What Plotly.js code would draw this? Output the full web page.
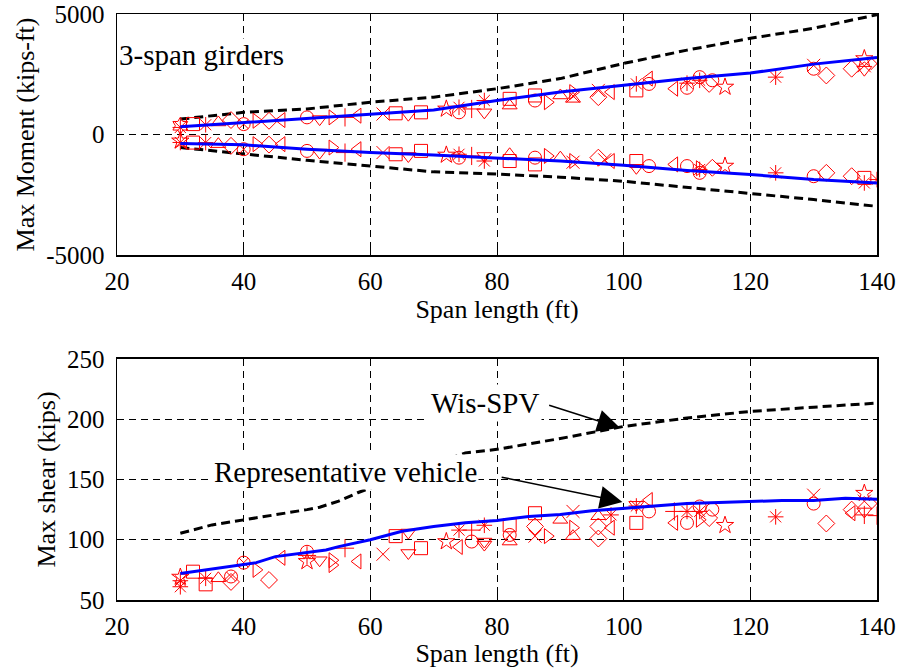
<!DOCTYPE html>
<html>
<head>
<meta charset="utf-8">
<script src="https://cdn.plot.ly/plotly-3.0.1.min.js"></script>
<style>html,body{margin:0;padding:0;background:#fff;}#chart{width:899px;height:669px;}</style>
</head>
<body>
<div id="chart"></div>
<script>
// ---------- Envelope curves ----------
const spanCurve = [30, 40, 50, 60, 70, 80, 90, 100, 110, 120, 130, 140];
const wisPosMoment = [640, 920, 1060, 1340, 1550, 1900, 2320, 2950, 3500, 3990, 4410, 4970];
const wisNegMoment = [-540, -820, -1070, -1310, -1550, -1640, -1770, -1940, -2190, -2470, -2700, -2980];
const repPosMoment = [320, 500, 670, 850, 1020, 1410, 1760, 2040, 2320, 2550, 2920, 3200];
const repNegMoment = [-375, -430, -610, -750, -850, -960, -1100, -1280, -1490, -1660, -1870, -2010];

const spanShearWis = [30, 35, 40, 45, 50, 52, 55, 58, 62, 66, 70, 75, 80, 90, 100, 110, 120, 130, 140];
const wisShear = [105.4, 112.3, 116.5, 120.6, 125, 127, 132, 139, 147, 155, 163, 172, 175, 184, 194, 201, 206.5, 210, 213.4];
const spanShearRep = [30, 35, 40, 42, 45, 50, 53, 55, 60, 65, 70, 75, 80, 85, 90, 95, 100, 105, 110, 115, 120, 125, 130, 135, 140];
const repShear = [72, 75.5, 79.6, 81, 86, 89.3, 91.5, 94.3, 100, 107, 111, 114, 116, 119.3, 121, 124, 126, 128.4, 130, 131, 132, 132.5, 132.5, 134.5, 133.7];

// Tick labels
const momentTicks = [-5000, 0, 5000];
const momentTickText = ['-5000', '0', '5000'];

// ---------- Individual truck results (vehicle type per point) ----------
const posSpan = [30, 30, 32, 34, 36, 38, 40, 42, 44, 46, 50, 52, 54, 56, 58, 62, 64, 66, 68, 72, 74, 74, 76, 78, 78,
  82, 82, 86, 86, 88, 90, 92, 92, 92, 96, 96, 98, 102, 102, 104, 104, 108, 110, 110, 112, 112, 114, 113.5, 116,
  124, 130, 130, 132, 136, 138, 138, 138, 140];
const posMoment = [363, 293, 432, 404, 500, 600, 432, 570, 570, 600, 711, 640, 711, 711, 781, 850, 880, 823, 920, 1060, 1130, 920, 1060, 920, 1410,
  1480, 1200, 1620, 1410, 1340, 1620, 1760, 1480, 1600, 1550, 1830, 1760, 2100, 1830, 2320, 2100, 1900, 1940, 2130, 2380, 2250, 2250, 2100, 1970,
  2380, 2730, 2870, 2450, 2730, 3150, 2690, 2850, 2940];
const posVeh = ['P','Q','A','K','D','C','L','F','B','G','H','E','F','I','G','J','A','E','A','M','K','H','I','E','K',
  'A','D','A','H','F','D','F','D','J','C','J','G','K','A','G','H','G','H','K','H','K','H','C','M',
  'K','H','J','C','C','M','E','J','J'];

const negSpan = [30, 30, 32, 34, 36, 38, 40, 42, 44, 46, 50, 52, 54, 56, 58, 62, 64, 66, 68, 72, 74, 74, 76, 78, 78,
  82, 82, 86, 86, 88, 90, 92, 92, 96, 98, 97, 102, 102, 104, 108, 110, 112, 112, 112, 114, 116,
  124, 130, 132, 136, 138, 138, 140];
const negMoment = [-265, -330, -335, -335, -400, -470, -610, -400, -420, -400, -680, -750, -540, -750, -610, -750, -820, -890, -680, -850, -820, -960, -890, -890, -1100,
  -820, -1100, -960, -1240, -890, -960, -1100, -1150, -960, -1100, -1050, -1100, -1380, -1310, -1240, -1310, -1450, -1590, -1400, -1380, -1310,
  -1590, -1730, -1590, -1730, -1800, -2010, -1870];
const negVeh = ['M','K','A','K','D','C','L','F','B','G','H','E','F','I','G','J','A','E','A','M','K','H','I','E','K',
  'D','A','H','A','F','D','F','J','C','G','J','A','E','H','G','H','K','H','F','C','M',
  'K','H','C','C','A','K','K'];

const shearSpan = [30, 30, 30, 32, 34, 34, 36, 38, 38, 40, 42, 44, 46, 50, 50, 50, 52, 54, 54, 56, 58, 62, 64, 66, 66, 68,
  72, 74, 74, 76, 76, 78, 78, 78, 82, 82, 82, 86, 86, 86, 88, 90, 92, 92, 92, 96, 96, 96, 98, 98,
  102, 102, 102, 104, 104, 108, 108, 110, 110, 112, 112, 112, 114, 113.5, 116, 124, 130, 130, 132, 136, 136, 138, 138, 138, 138, 140, 140];
const shearVal = [66, 61, 69, 73.5, 63, 68, 68, 69.5, 65, 81, 75, 66.6, 85, 90, 82, 87, 83, 83, 79, 93, 82, 88, 103, 106, 89, 93,
  98.5, 108, 94, 108, 98.5, 112, 98.5, 96, 112, 104, 98.5, 122, 111, 103, 103, 116.5, 123.5, 110, 103, 119.5, 111, 101, 120.6, 110,
  129, 114, 128, 133, 123.5, 123.5, 114, 114, 123.5, 127.6, 123.5, 116.6, 125, 118, 112, 119, 137, 130, 113.5, 125, 122, 138.6, 123.5, 132, 120.6, 130, 120];
const shearVeh = ['K','Q','M','A','A','K','D','L','C','L','F','C','G','H','M','I','E','F','F','I','G','J','A','E','E','A',
  'M','K','G','I','H','K','E','E','A','L','D','A','C','J','F','D','J','F','D','D','C','C','K','G',
  'E','A','K','G','H','I','G','H','K','H','K','F','H','C','M','K','J','H','C','C','G','M','E','J','I','J','I'];

// ---------- Style map (vehicle type -> marker symbol) ----------
const vehSymbol = {
  A: 'square-open', B: 'diamond-open', C: 'diamond-open', D: 'triangle-up-open', E: 'triangle-down-open',
  F: 'triangle-right-open', G: 'triangle-left-open', H: 'circle-open', I: 'cross-thin-open', J: 'x-thin-open',
  K: 'asterisk-open', L: 'circle-x-open', M: 'star-open', P: 'hexagram-open', Q: 'asterisk-open'
};

function markerTraces(xs, ys, vs, xa, ya) {
  const groups = {};
  xs.forEach((x, i) => {
    const v = vs[i];
    if (!groups[v]) groups[v] = {x: [], y: []};
    groups[v].x.push(x); groups[v].y.push(ys[i]);
  });
  return Object.keys(groups).map(v => ({
    type: 'scatter', mode: 'markers', x: groups[v].x, y: groups[v].y, xaxis: xa, yaxis: ya,
    showlegend: false, hoverinfo: 'x+y',
    marker: {symbol: vehSymbol[v], size: 13, color: '#ff0000', line: {color: '#ff0000', width: 1}}
  }));
}

const dashBlack = {color: '#000', width: 3, dash: '9px,5px'};
const solidBlue = {color: '#0000ff', width: 3};

const traces = [
  {type: 'scatter', mode: 'lines', x: spanCurve, y: wisPosMoment, xaxis: 'x', yaxis: 'y', line: dashBlack, showlegend: false},
  {type: 'scatter', mode: 'lines', x: spanCurve, y: wisNegMoment, xaxis: 'x', yaxis: 'y', line: dashBlack, showlegend: false},
  ...markerTraces(posSpan, posMoment, posVeh, 'x', 'y'),
  ...markerTraces(negSpan, negMoment, negVeh, 'x', 'y'),
  {type: 'scatter', mode: 'lines', x: spanCurve, y: repPosMoment, xaxis: 'x', yaxis: 'y', line: solidBlue, showlegend: false},
  {type: 'scatter', mode: 'lines', x: spanCurve, y: repNegMoment, xaxis: 'x', yaxis: 'y', line: solidBlue, showlegend: false},
  {type: 'scatter', mode: 'lines', x: spanShearWis, y: wisShear, xaxis: 'x2', yaxis: 'y2', line: dashBlack, showlegend: false},
  ...markerTraces(shearSpan, shearVal, shearVeh, 'x2', 'y2'),
  {type: 'scatter', mode: 'lines', x: spanShearRep, y: repShear, xaxis: 'x2', yaxis: 'y2', line: solidBlue, showlegend: false}
];

const FAM = 'Liberation Serif';
const tickFnt = {family: FAM, size: 25, color: '#000'};
const titleFnt = {family: FAM, size: 26, color: '#000'};
const noteFnt = {family: FAM, size: 29, color: '#000'};
const axCommon = {
  showline: true, mirror: true, linecolor: '#000', linewidth: 1.5,
  ticks: 'inside', ticklen: 6, tickcolor: '#000', tickwidth: 1,
  showgrid: true, gridcolor: '#000', gridwidth: 1, griddash: '7px,5px',
  zeroline: false, tickfont: tickFnt, automargin: false
};

const layout = {
  width: 899, height: 669,
  margin: {l: 117, r: 22, t: 14, b: 69},
  paper_bgcolor: '#fff', plot_bgcolor: '#fff',
  font: tickFnt,
  showlegend: false,
  xaxis: Object.assign({}, axCommon, {range: [20, 140], dtick: 20, tick0: 20, anchor: 'y', domain: [0, 1],
    ticklabelstandoff: 3, title: {text: 'Span length (ft)', font: titleFnt, standoff: 2}}),
  yaxis: Object.assign({}, axCommon, {range: [-5000, 5000], tickmode: 'array', tickvals: momentTicks, ticktext: momentTickText,
    domain: [0.5887, 1], anchor: 'x', ticklabelstandoff: 6,
    title: {text: 'Max Moment (kips-ft)', font: titleFnt, standoff: 4}}),
  xaxis2: Object.assign({}, axCommon, {range: [20, 140], dtick: 20, tick0: 20, anchor: 'y2', domain: [0, 1],
    ticklabelstandoff: 3, title: {text: 'Span length (ft)', font: titleFnt, standoff: 2}}),
  yaxis2: Object.assign({}, axCommon, {range: [50, 250], dtick: 50, tick0: 50, domain: [0, 0.4113], anchor: 'x2',
    ticklabelstandoff: 6, title: {text: 'Max shear (kips)', font: titleFnt, standoff: 4}}),
  annotations: [
    {xref: 'x', yref: 'y', x: 20.2, y: 3290, xanchor: 'left', yanchor: 'middle', text: '3-span girders',
      showarrow: false, bgcolor: '#fff', borderpad: 0, font: noteFnt},
    {xref: 'x2', yref: 'y2', x: 78.1, y: 213.7, text: 'Wis-SPV', showarrow: false, bgcolor: '#fff',
      borderpad: 2, font: noteFnt},
    {xref: 'x2', yref: 'y2', x: 56.1, y: 156.4, text: 'Representative vehicle', showarrow: false, bgcolor: '#fff',
      borderpad: 1, font: noteFnt},
    {xref: 'x2', yref: 'y2', x: 99.4, y: 192.9, axref: 'x2', ayref: 'y2', ax: 88.0, ay: 212.0, text: '',
      showarrow: true, arrowhead: 2, arrowsize: 3, arrowwidth: 1.5, arrowcolor: '#000', standoff: 0},
    {xref: 'x2', yref: 'y2', x: 99.8, y: 131.4, axref: 'x2', ayref: 'y2', ax: 80.5, ay: 152.2, text: '',
      showarrow: true, arrowhead: 2, arrowsize: 3, arrowwidth: 1.5, arrowcolor: '#000', standoff: 0}
  ]
};

Plotly.newPlot('chart', traces, layout, {staticPlot: true, displayModeBar: false});
</script>
</body>
</html>
